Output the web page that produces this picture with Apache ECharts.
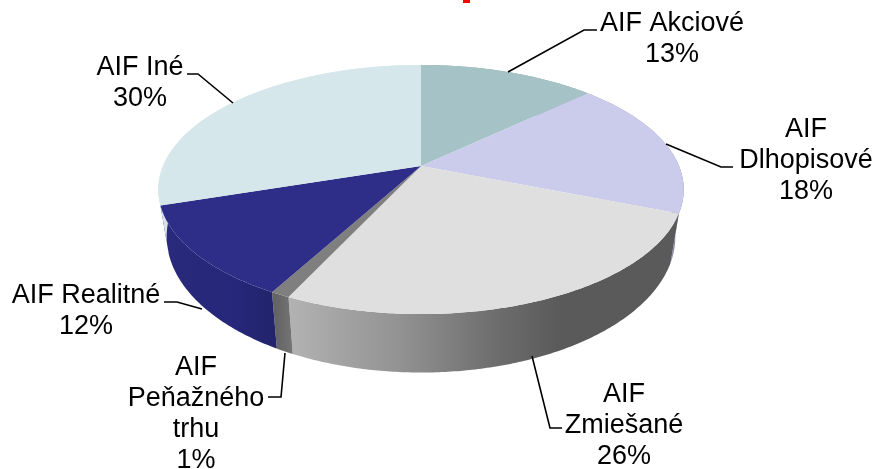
<!DOCTYPE html>
<html>
<head>
<meta charset="utf-8">
<style>html,body{margin:0;padding:0;background:#fff}#c{width:874px;height:469px}</style>
<script src="https://cdn.jsdelivr.net/npm/echarts@6/dist/echarts.min.js"></script>
</head>
<body>
<div id="c"></div>
<script>
// Data
var categories = ['AIF Akciové', 'AIF Dlhopisové', 'AIF Zmiešané', 'AIF Peňažného trhu', 'AIF Realitné', 'AIF Iné'];
var shares = [13, 18, 26, 1, 12, 30];
var labelTexts = ['AIF Akciové\n13%', 'AIF\nDlhopisové\n18%', 'AIF\nZmiešané\n26%', 'AIF\nPeňažného\ntrhu\n1%', 'AIF Realitné\n12%', 'AIF Iné\n30%'];

// Styles and layout
var topColors = ['#a5c3c6', '#cbcbeb', '#dfdfdf', '#7f7f7f', '#2e2d88', '#d6e7eb'];
var wallStops = [
  ['#8aa4a6', '#8aa4a6'],
  ['#9a9ab8', '#70708c'],
  ['#b2b2b2', '#929292', '#6c6c6c', '#5a5a5a', '#5a5a5a'],
  ['#646464', '#747474'],
  ['#2a2a7c', '#26267a', '#22246a'],
  ['#d6e4e8', '#d6e4e8']
];
var wallSpan = [[160, 690], [660, 690], [290, 400, 500, 560, 690], [276, 292], [165, 240, 276], [150, 170]];
var labelAnchors = [[672, 8], [806, 114], [624, 379], [196, 352], [86, 280], [140, 52]];
var leaders = [
  [[508, 72], [584, 30], [597, 30]],
  [[666, 144], [721, 167], [733, 167]],
  [[532, 356], [550, 428], [562, 428]],
  [[285, 353], [281, 397], [268, 397]],
  [[164, 302], [177, 302], [202, 309]],
  [[187, 74], [198, 74], [233, 103]]
];
var C = { x: 421, y: 166, A: 120.1, B: 258, k: 0.189, wallY: 211, wallA: 131, wallS: 0.968 };

function rad(pct) { return pct / 100 * Math.PI * 2; }
function topPt(t) {
  var u = Math.sin(t), v = Math.cos(t), d = 1 + C.k * v;
  return [C.x + C.B * u / d, C.y - C.A * v / d];
}
function botPt(t) {
  var u = Math.sin(t), v = Math.cos(t), d = 1 + C.k * v;
  return [C.x + C.wallS * C.B * u / d, C.wallY - C.wallA * v / d];
}
function range(i) {
  var s = 0;
  for (var j = 0; j < i; j++) s += shares[j];
  return [rad(s), rad(s + shares[i])];
}
function arc(fn, a, b) {
  var n = Math.max(4, Math.ceil((b - a) / 0.01)), out = [];
  for (var i = 0; i <= n; i++) out.push(fn(a + (b - a) * i / n));
  return out;
}
function wallItem(params) {
  var i = params.dataIndex, r = range(i);
  var pts = arc(topPt, r[0], r[1]).concat(arc(botPt, r[0], r[1]).reverse());
  var sp = wallSpan[i], st = wallStops[i], x0 = sp[0], x1 = sp[sp.length - 1];
  var stops = st.map(function (c, k) { return { offset: (sp[k] - x0) / (x1 - x0), color: c }; });
  return {
    type: 'polygon',
    shape: { points: pts },
    style: { fill: new echarts.graphic.LinearGradient(x0, 0, x1, 0, stops, true) }
  };
}
function topItem(params) {
  var i = params.dataIndex, r = range(i);
  return {
    type: 'polygon',
    shape: { points: [[C.x, C.y]].concat(arc(topPt, r[0], r[1])) },
    style: { fill: topColors[i] }
  };
}
function labelItem(params) {
  var i = params.dataIndex, a = labelAnchors[i];
  return {
    type: 'group',
    children: [
      { type: 'polyline', shape: { points: leaders[i] }, style: { stroke: '#000', lineWidth: 1.6, fill: 'none' } },
      { type: 'text', x: a[0], y: a[1], style: {
        text: labelTexts[i], fill: '#000', fontFamily: 'Liberation Sans', fontSize: 27,
        lineHeight: 31, align: 'center', verticalAlign: 'top'
      } }
    ]
  };
}
var seriesData = shares.map(function (v, i) { return { name: categories[i], value: v }; });
var chart = echarts.init(document.getElementById('c'), null, { renderer: 'canvas' });
chart.setOption({
  animation: false,
  backgroundColor: '#fff',
  graphic: [{ type: 'rect', shape: { x: 463, y: 0, width: 7, height: 3 }, style: { fill: '#ff0000' } }],
  series: [
    { type: 'custom', coordinateSystem: 'none', z: 1, silent: true, data: seriesData, renderItem: wallItem },
    { type: 'custom', coordinateSystem: 'none', z: 2, silent: true, data: seriesData, renderItem: topItem },
    { type: 'custom', coordinateSystem: 'none', z: 3, silent: true, data: seriesData, renderItem: labelItem }
  ]
});
</script>
</body>
</html>
